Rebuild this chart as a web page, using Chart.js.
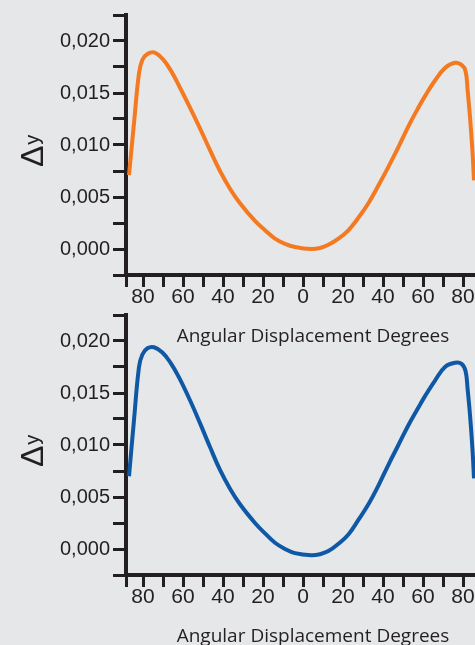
<!DOCTYPE html>
<html>
<head>
<meta charset="utf-8">
<script src="https://cdn.jsdelivr.net/npm/chart.js@4.4.1/dist/chart.umd.min.js"></script>
<style>
  html, body { margin: 0; padding: 0; background: #e6e7e8; width: 475px; height: 645px; overflow: hidden; }
  .panel { position: absolute; left: 0; width: 500px; height: 350px; }
  canvas { display: block; }
</style>
</head>
<body>
<div class="panel" style="top:0px"><canvas id="panelTop" width="500" height="350"></canvas></div>
<div class="panel" style="top:300px"><canvas id="panelBottom" width="500" height="350"></canvas></div>
<script>
// Angular displacement (degrees) at which Δy was sampled
const angleDeg = [-87, -84.5, -82, -80.3, -77.8, -74.5, -70.3, -66.2, -62, -56.5, -51.5, -46.5, -41.5, -36.5, -31.5,
                  -24, -19, -14, -9, -4, 4, 8.5, 12.7, 17.7, 22.7, 27.7, 32.7, 37.7, 42.7, 47.7,
                  52.7, 57.7, 61, 66, 71, 76, 79.3, 81.3, 82.3, 83.5, 84.7, 85.5];

// Δy, upper panel
const deltaTop = [0.0071, 0.0121, 0.0169, 0.0182, 0.01875, 0.0189, 0.0183, 0.0172, 0.0157, 0.0136, 0.0116, 0.0095, 0.0075, 0.0058, 0.0044,
                  0.0027, 0.0018, 0.0010, 0.0005, 0.0002, 0.0000, 0.0001, 0.0004, 0.0010, 0.0018, 0.0030, 0.0044, 0.0061, 0.0079, 0.0098,
                  0.0118, 0.0136, 0.0147, 0.0162, 0.0174, 0.0179, 0.0177, 0.0171, 0.0153, 0.0127, 0.0095, 0.0066];

// Δy, lower panel
const deltaBottom = [0.0070, 0.0124, 0.0175, 0.0187, 0.0193, 0.0194, 0.0189, 0.0179, 0.0165, 0.0143, 0.0121, 0.0098, 0.0076, 0.0058, 0.0043,
                     0.0025, 0.0015, 0.0006, 0.0000, -0.0004, -0.0006, -0.0005, -0.0002, 0.0005, 0.0014, 0.0028, 0.0043, 0.0061, 0.0081, 0.0100,
                     0.0119, 0.0136, 0.0147, 0.0162, 0.0175, 0.0179, 0.0178, 0.0171, 0.0154, 0.0129, 0.0097, 0.0068];

// Axis tick positions
const xTicks = [-88.5, -80, -70, -60, -50, -40, -30, -20, -10, 0, 10, 20, 30, 40, 50, 60, 70, 80, 90];
const xLabelled = [-80, -60, -40, -20, 0, 20, 40, 60, 80];
const yTicks = [-0.0025, 0, 0.0025, 0.005, 0.0075, 0.010, 0.0125, 0.015, 0.0175, 0.020, 0.0225];
const yLabelled = [0, 0.005, 0.010, 0.015, 0.020];

const X_RANGE = [-88.5, 98.5];
const Y_RANGE = [-0.0025, 0.0225];
const INK = '#231f20';
const X_TITLE = 'Angular Displacement Degrees';

// Δ with a smaller y, written bottom-to-top left of the value axis
const deltaLabel = {
  id: 'deltaLabel',
  afterDraw(chart) {
    const { ctx, chartArea } = chart;
    const mid = (chartArea.top + chartArea.bottom) / 2;
    ctx.save();
    ctx.translate(43, mid + 22);
    ctx.rotate(-Math.PI / 2);
    ctx.fillStyle = INK;
    ctx.textAlign = 'left';
    ctx.textBaseline = 'alphabetic';
    ctx.font = '32px "Liberation Sans", Arial, sans-serif';
    ctx.fillText('\u0394', 0, 0);
    const w = ctx.measureText('\u0394').width;
    ctx.font = '20px "Liberation Sans", Arial, sans-serif';
    ctx.fillText('y', w + 1, -4);
    ctx.restore();
  }
};

function near(list, v) {
  return list.some(t => Math.abs(t - v) < 1e-9);
}

function buildChart(id, values, colour) {
  const points = angleDeg.map((a, i) => ({ x: a, y: values[i] }));
  return new Chart(document.getElementById(id), {
    type: 'line',
    data: {
      datasets: [{
        data: points,
        borderColor: colour,
        borderWidth: 4,
        pointRadius: 0,
        fill: false,
        tension: 0.4
      }]
    },
    options: {
      responsive: false,
      animation: false,
      events: [],
      layout: { padding: { top: 15, left: 0, right: 0, bottom: 0 } },
      plugins: { legend: { display: false }, tooltip: { enabled: false } },
      scales: {
        x: {
          type: 'linear',
          min: X_RANGE[0],
          max: X_RANGE[1],
          afterBuildTicks(s) { s.ticks = xTicks.map(v => ({ value: v })); },
          afterFit(s) { s.height = 75; s.paddingLeft = 0; s.paddingRight = 0; },
          border: { display: true, color: INK, width: 4 },
          grid: { display: true, drawOnChartArea: false, drawTicks: true, tickLength: 12, lineWidth: 3, tickWidth: 3, tickColor: INK, color: INK },
          ticks: {
            autoSkip: false,
            maxRotation: 0,
            padding: 0,
            color: INK,
            font: { family: '"Liberation Sans", Arial, sans-serif', size: 21, lineHeight: 1 },
            callback: v => near(xLabelled, v) ? String(Math.abs(Math.round(v))) : ''
          },
          title: {
            display: true,
            text: X_TITLE,
            color: INK,
            font: { family: '"Open Sans", sans-serif', size: 19, lineHeight: 1.2 },
            padding: { top: 0, bottom: 2 }
          }
        },
        y: {
          type: 'linear',
          min: Y_RANGE[0],
          max: Y_RANGE[1],
          afterBuildTicks(s) { s.ticks = yTicks.map(v => ({ value: v })); },
          afterFit(s) { s.width = 126; s.paddingTop = 0; s.paddingBottom = 0; },
          border: { display: true, color: INK, width: 4 },
          grid: { display: true, drawOnChartArea: false, drawTicks: true, tickLength: 13, lineWidth: 3, tickWidth: 3, tickColor: INK, color: INK },
          ticks: {
            autoSkip: false,
            padding: 3,
            color: INK,
            font: { family: '"Liberation Sans", Arial, sans-serif', size: 20, lineHeight: 1 },
            callback: v => near(yLabelled, v) ? v.toFixed(3).replace('.', ',') : ''
          }
        }
      }
    },
    plugins: [deltaLabel]
  });
}

buildChart('panelTop', deltaTop, '#f47a22');
buildChart('panelBottom', deltaBottom, '#0f58a6');
</script>
</body>
</html>
